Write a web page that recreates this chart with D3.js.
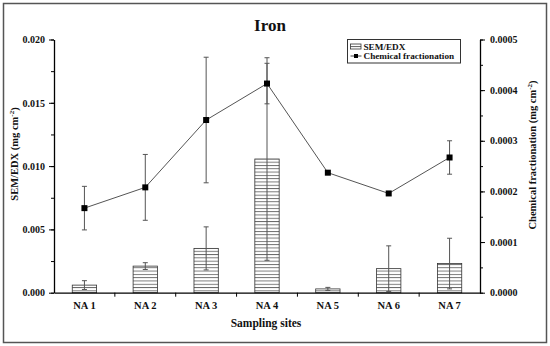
<!DOCTYPE html>
<html>
<head>
<meta charset="utf-8">
<script src="https://cdn.jsdelivr.net/npm/d3@7"></script>
<style>
  body { margin: 0; background: #fff; }
  text { font-family: "Liberation Serif", "DejaVu Serif", serif; font-weight: bold; fill: #111; }
</style>
</head>
<body>
<svg width="550" height="346"></svg>
<script>
// data
const sites = ["NA 1", "NA 2", "NA 3", "NA 4", "NA 5", "NA 6", "NA 7"];
const semValues = [0.0006, 0.0021, 0.0035, 0.01056, 0.0003, 0.0019, 0.0023];
const semErrors = [0.00035, 0.00027, 0.0017, 0.008, 0.00012, 0.0018, 0.002];
const chemValues = [0.000167, 0.000208, 0.000341, 0.000413, 0.000237, 0.000196, 0.000267];
const chemErrors = [0.000043, 0.000065, 0.000124, 0.00004, 0, 0, 0.000033];
const leftTicks = [0, 0.005, 0.010, 0.015, 0.020];
const rightTicks = [0, 0.0001, 0.0002, 0.0003, 0.0004, 0.0005];

const svg = d3.select("svg"),
  width = +svg.attr("width"),
  height = +svg.attr("height");

const margin = {left: 54, right: 70, top: 39.5, bottom: 53.3};

// outer frame
svg.append("rect")
  .attr("x", 3.5).attr("y", 3.5)
  .attr("width", width - 7).attr("height", height - 7)
  .attr("fill", "none").attr("stroke", "#555").attr("stroke-width", 1.5);

// hatch for bars
const defs = svg.append("defs");
const pat = defs.append("pattern")
  .attr("id", "hatch")
  .attr("patternUnits", "userSpaceOnUse")
  .attr("width", 10).attr("height", 3.3);
pat.append("rect").attr("width", 10).attr("height", 3.3).attr("fill", "#fff");
pat.append("line").attr("x1", 0).attr("x2", 10).attr("y1", 0.5).attr("y2", 0.5)
  .attr("stroke", "#444").attr("stroke-width", 0.8);

const x = d3.scaleBand()
  .domain(sites)
  .range([margin.left, width - margin.right]);

const yL = d3.scaleLinear().domain([0, 0.020]).range([height - margin.bottom, margin.top]);
const yR = d3.scaleLinear().domain([0, 0.0005]).range([height - margin.bottom, margin.top]);

const barW = x.bandwidth() * 0.4;

// bars
svg.append("g")
  .selectAll("rect")
  .data(sites)
  .enter()
  .append("rect")
  .attr("x", d => x(d) + (x.bandwidth() - barW) / 2)
  .attr("y", (d, i) => yL(semValues[i]))
  .attr("width", barW)
  .attr("height", (d, i) => yL(0) - yL(semValues[i]))
  .attr("fill", "url(#hatch)")
  .attr("stroke", "#333")
  .attr("stroke-width", 0.8);

// error bars helper
function errorBars(vals, errs, scale, cls) {
  const g = svg.append("g").attr("class", cls);
  sites.forEach((s, i) => {
    if (!errs[i]) return;
    const cx = x(s) + x.bandwidth() / 2;
    const y1 = scale(vals[i] + errs[i]), y2 = scale(Math.max(0, vals[i] - errs[i]));
    g.append("line").attr("x1", cx).attr("x2", cx).attr("y1", y1).attr("y2", y2);
    g.append("line").attr("x1", cx - 2.5).attr("x2", cx + 2.5).attr("y1", y1).attr("y2", y1);
    g.append("line").attr("x1", cx - 2.5).attr("x2", cx + 2.5).attr("y1", y2).attr("y2", y2);
  });
  g.selectAll("line").attr("stroke", "#555").attr("stroke-width", 1);
}

errorBars(semValues, semErrors, yL, "semErr");
errorBars(chemValues, chemErrors, yR, "chemErr");

// line
const line = d3.line()
  .x((d, i) => x(sites[i]) + x.bandwidth() / 2)
  .y(d => yR(d));

svg.append("path")
  .datum(chemValues)
  .attr("d", line)
  .attr("fill", "none")
  .attr("stroke", "#555")
  .attr("stroke-width", 1);

svg.append("g")
  .selectAll("rect")
  .data(chemValues)
  .enter()
  .append("rect")
  .attr("x", (d, i) => x(sites[i]) + x.bandwidth() / 2 - 3)
  .attr("y", d => yR(d) - 3)
  .attr("width", 6).attr("height", 6)
  .attr("fill", "#000");

// axes
const axisStyle = g => {
  g.select(".domain").attr("stroke", "#000").attr("stroke-width", 1.3);
  g.selectAll(".tick line").attr("stroke", "#000");
  g.selectAll(".tick text")
    .style("font-family", "'Liberation Serif', serif")
    .style("font-weight", "bold")
    .attr("font-size", 10).attr("fill", "#222");
};

// left
svg.append("g")
  .attr("transform", `translate(${margin.left},0)`)
  .call(d3.axisLeft(yL).tickValues(d3.range(0, 0.0201, 0.0025)).tickSize(3).tickFormat(""))
  .call(g => g.select(".domain").remove())
  .selectAll("line").attr("stroke", "#000");
svg.append("g")
  .attr("transform", `translate(${margin.left},0)`)
  .call(d3.axisLeft(yL).tickValues(leftTicks).tickSize(5).tickSizeOuter(0).tickPadding(4).tickFormat(d3.format(".3f")))
  .call(axisStyle);

// right
svg.append("g")
  .attr("transform", `translate(${width - margin.right},0)`)
  .call(d3.axisRight(yR).tickValues(d3.range(0, 0.000501, 0.00005)).tickSize(3).tickFormat(""))
  .call(g => g.select(".domain").remove())
  .selectAll("line").attr("stroke", "#000");
svg.append("g")
  .attr("transform", `translate(${width - margin.right},0)`)
  .call(d3.axisRight(yR).tickValues(rightTicks).tickSize(5).tickSizeOuter(0).tickPadding(5).tickFormat(d3.format(".4f")))
  .call(axisStyle);

// bottom
const xAxis = svg.append("g")
  .attr("transform", `translate(0,${height - margin.bottom})`)
  .call(d3.axisBottom(x).tickSize(0).tickPadding(9))
  .call(axisStyle);
xAxis.selectAll(".tick text").attr("font-size", 10.5);
// ticks at band boundaries
svg.append("g")
  .selectAll("line")
  .data(sites.slice(1))
  .enter()
  .append("line")
  .attr("x1", d => x(d)).attr("x2", d => x(d))
  .attr("y1", height - margin.bottom).attr("y2", height - margin.bottom + 4)
  .attr("stroke", "#000");

// titles
svg.append("text")
  .attr("x", 270).attr("y", 31)
  .attr("text-anchor", "middle")
  .attr("font-size", 17)
  .text("Iron");

svg.append("text")
  .attr("x", 266).attr("y", 327)
  .attr("text-anchor", "middle")
  .attr("font-size", 11.5)
  .text("Sampling sites");

const leftTitle = svg.append("text")
  .attr("transform", "translate(18,154) rotate(-90)")
  .attr("text-anchor", "middle")
  .attr("font-size", 10.5);
leftTitle.append("tspan").text("SEM/EDX (mg cm");
leftTitle.append("tspan").attr("dy", -4).attr("font-size", 7).text("-2");
leftTitle.append("tspan").attr("dy", 4).text(")");

const rightTitle = svg.append("text")
  .attr("transform", "translate(536,155) rotate(-90)")
  .attr("text-anchor", "middle")
  .attr("font-size", 10.5);
rightTitle.append("tspan").text("Chemical fractionation (mg cm");
rightTitle.append("tspan").attr("dy", -4).attr("font-size", 7).text("-2");
rightTitle.append("tspan").attr("dy", 4).text(")");

// legend
const lg = svg.append("g").attr("transform", "translate(347.5,39.5)");
lg.append("rect").attr("width", 113).attr("height", 23.5)
  .attr("fill", "#fff").attr("stroke", "#333").attr("stroke-width", 1);
lg.append("rect").attr("x", 3).attr("y", 4.5).attr("width", 10.5).attr("height", 5)
  .attr("fill", "url(#hatch)").attr("stroke", "#333").attr("stroke-width", 0.8);
lg.append("line").attr("x1", 3).attr("x2", 14).attr("y1", 16.5).attr("y2", 16.5)
  .attr("stroke", "#444");
lg.append("rect").attr("x", 6.5).attr("y", 14.5).attr("width", 4).attr("height", 4).attr("fill", "#000");
lg.append("text").attr("x", 16).attr("y", 10).attr("font-size", 9.2).text("SEM/EDX");
lg.append("text").attr("x", 16).attr("y", 19.5).attr("font-size", 9.2).text("Chemical fractionation");
</script>
</body>
</html>
